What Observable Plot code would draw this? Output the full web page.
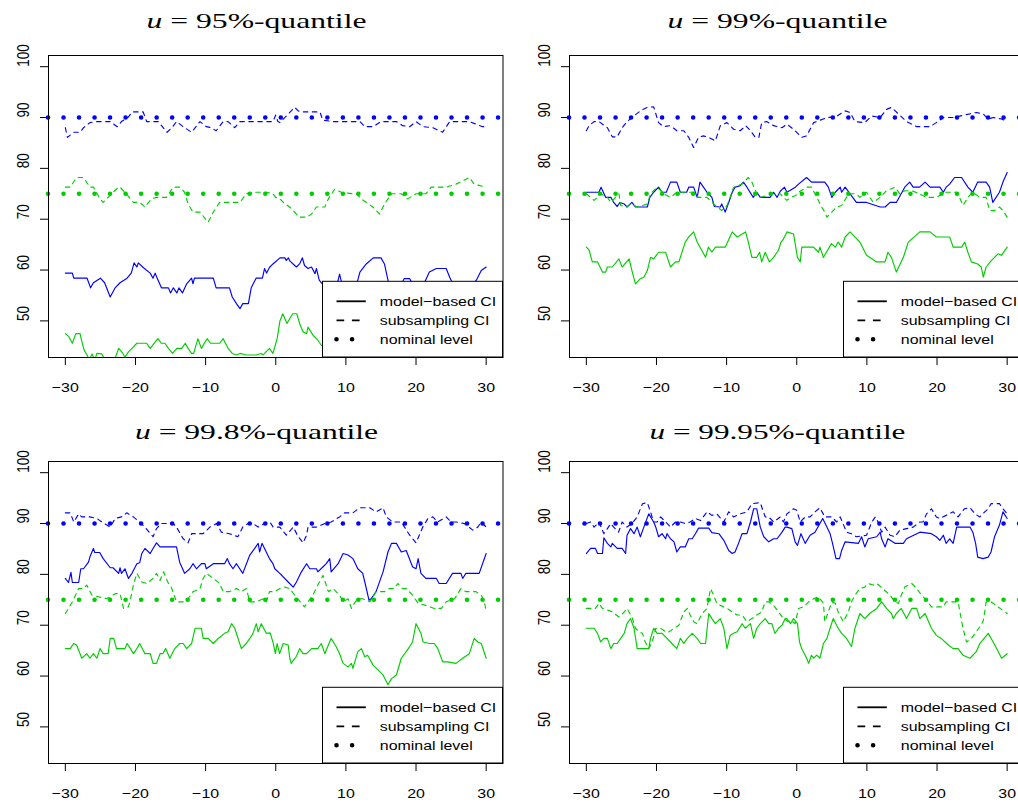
<!DOCTYPE html>
<html><head><meta charset="utf-8">
<script src="https://cdn.jsdelivr.net/npm/d3@7"></script>
<script src="https://cdn.jsdelivr.net/npm/@observablehq/plot@0.6"></script>
<style>
html,body{margin:0;padding:0;background:#fff;}
#wrap{position:relative;width:1018px;height:802px;overflow:hidden;background:#fff;}
#wrap svg{position:absolute;}
</style></head><body><div id="wrap"></div>
<script>
// ---------- data (x = lag, y = coverage in %) ----------
const xTicks = [-30,-20,-10,0,10,20,30];
const yTicks = [50,60,70,80,90,100];
const nominalBlue = [90];
const nominalGreen = [75];
const legendLabels = ["model\u2212based CI","subsampling CI","nominal level"];
const quantileLabels = ["95%","99%","99.8%","99.95%"];

// u = 95%
const p1BlueModel = [[-30,59.4],[-29,59.4],[-28.8,58.4],[-26.9,58.4],[-26.4,56.5],[-26,57.5],[-25,58.4],[-24.4,57.5],[-23.6,54.7],[-22.9,56.5],[-22.2,57.5],[-21.2,58.4],[-20.6,59.4],[-20.2,61.4],[-19.8,60.6],[-19.6,61.4],[-18.9,60.5],[-17.9,59.4],[-17.5,58.4],[-17.2,59.4],[-16.9,58.4],[-16.3,56.5],[-15.3,56.5],[-15,55.5],[-14.6,56.5],[-14.1,55.5],[-13.8,56.5],[-13.3,55.5],[-12.7,57.3],[-12,58.4],[-11.8,57.3],[-11.6,58.4],[-8.9,58.4],[-8.5,56.5],[-6.6,56.5],[-6.2,54.7],[-5.6,53.4],[-5.1,52.4],[-4.7,53.4],[-3.9,53.4],[-3.5,56.5],[-2.8,58.4],[-1.9,58.4],[-1.6,60.3],[-1.3,59.4],[-0.9,60.5],[-0.4,61.2],[0.6,62.4],[1.3,62.4],[1.5,61.9],[1.8,62.4],[2,61.8],[2.7,60.9],[2.95,60.6],[3.4,61.2],[3.8,62.4],[4.1,60.9],[4.6,60.3],[5.1,60.6],[5.6,59.3],[5.8,60.3],[6.2,58],[6.8,57],[7.5,56],[8.2,57.5],[8.8,57.5],[9.1,59.2],[9.4,57.5],[10.5,56.5],[11.5,57],[12,59.6],[12.9,61.2],[13.9,62.4],[15,62.4],[15.5,61.2],[16,58],[16.5,56.5],[17.5,56],[18.3,58.3],[19.1,58.3],[19.6,57],[20.5,56.5],[21.2,57.5],[21.9,59.6],[22.9,60.3],[24.3,60.3],[24.8,58.6],[25,58],[25.8,56.5],[27,56],[28,57],[28.6,58],[29.3,59.9],[30,60.6]];
const p1GreenModel = [[-30,47.5],[-29.5,46.9],[-29,45.6],[-28.5,47.5],[-27.9,47.5],[-27.7,46.2],[-27.3,44.2],[-26.9,43.3],[-26.6,42.3],[-26.2,43.5],[-25.8,42.3],[-25.5,43.6],[-24.8,43.5],[-24.3,42.2],[-23,42.3],[-22.4,44.6],[-21.8,43.6],[-21.5,42.9],[-21,43.9],[-20.5,44.6],[-19.8,45.6],[-18.4,45.6],[-17.9,44.6],[-16.8,46.5],[-16.3,45.6],[-15.8,45.6],[-15.3,44.6],[-14.7,43.6],[-14.1,44.6],[-13.4,44.6],[-12.9,45.6],[-12.5,44.6],[-12,43.6],[-11.7,43.6],[-11.1,46.5],[-10.6,44.6],[-9.8,46.5],[-9.3,45.6],[-8,45.6],[-7.5,46.5],[-6.8,44.6],[-6.2,43.6],[-5.6,43.3],[-5.1,43.6],[-4.2,43.3],[-2.8,43.3],[-2.1,43.6],[-1.8,43.3],[-0.9,44.6],[-0.4,43.6],[0.2,46.5],[0.6,50],[1,51.4],[1.6,49.5],[2.4,51.4],[3,51.4],[3.4,49.5],[3.9,47.8],[4.4,47.5],[4.6,48.8],[5.3,47.2],[6,46.2],[6.5,45.2],[7.5,44.5],[9,45.5],[10.5,44],[12,45.5],[13.5,44.5],[15,46],[16.5,45],[18,44],[19.5,45.5],[21,46.5],[22.5,45],[24,44],[25.5,45.5],[27,46],[28.5,44.5],[30,45]];
const p1BlueSub = [[-30,88],[-29.7,86.1],[-28.8,87.1],[-27.9,87.1],[-27.4,88],[-26.5,89],[-25.5,89.2],[-23.6,89.2],[-22.6,88.2],[-22,89.2],[-21,90.1],[-20.5,91.1],[-18.9,91.1],[-18.4,89.2],[-16.75,89.2],[-15.5,87.1],[-14.8,88],[-14.15,89.2],[-13.2,88.2],[-12,87.1],[-10.8,89.2],[-9.9,88.2],[-9.2,88],[-8.5,87.4],[-7.5,89.2],[-6.8,89.2],[-5.85,88],[-5.1,89.2],[-0.4,89.2],[0,90.5],[0.3,89.2],[0.6,89],[1.8,90.7],[2.7,92],[3.2,91.3],[3.9,91.1],[6.3,91.1],[6.7,89.5],[8.2,89.2],[12,89.2],[12.7,88.2],[13.9,88.2],[15,89.2],[17.2,89.2],[18.1,88.4],[19.1,88.2],[20,89.2],[21,88.2],[22.4,88],[23.8,87.1],[24.8,89.2],[27.6,89.2],[29.5,88.2],[30,88.2]];
const p1GreenSub = [[-30,76.3],[-29.3,76.3],[-28.4,78.2],[-27.4,78.2],[-26.5,76.3],[-26,76.3],[-25.05,74],[-24.6,73.3],[-23.9,74.3],[-23.2,75.3],[-22.4,76.3],[-22.2,76.3],[-21.3,75],[-20.3,73.3],[-19.4,73.3],[-18.65,72.4],[-17.7,74],[-17,74.3],[-15.6,74.3],[-14.6,76.3],[-13.7,76.3],[-13,75.3],[-12.5,73],[-11.8,71.4],[-10.8,71.4],[-9.65,69.4],[-8.9,71.4],[-8,73.3],[-5.1,73.3],[-4.2,75],[-3.25,75.3],[-1.35,75.3],[-0.4,75],[0,74.3],[0.6,74],[1.3,73],[2,72.4],[2.95,71],[3.4,70.4],[4.4,70.4],[5.1,71],[5.8,72.4],[7,72.4],[7.5,74],[8.4,75.9],[9.35,75.3],[11,75],[11.5,75],[12.2,74],[13.85,72.4],[14.8,71],[15.5,73],[16.5,75],[17.9,75],[18.8,74],[20,75],[21.4,75],[22.15,76.3],[24.3,76.3],[25.7,76.9],[27.6,78.2],[28.3,76.9],[30,76.3]];

// u = 99%
const p2BlueModel = [[-30,75.3],[-28.2,75.3],[-27.9,76.3],[-27.25,74.3],[-26.5,74.3],[-26.1,73.3],[-25.6,72.5],[-25.2,73.3],[-24.6,73],[-24.2,72.4],[-23.5,73.3],[-23,72.4],[-21.3,72.4],[-20.95,74.3],[-20.4,75.3],[-19.7,76.3],[-19.2,75.3],[-18.6,75.3],[-18,77.3],[-17.1,77.3],[-16.6,75.3],[-15.7,75.3],[-15.4,76.3],[-14.7,76.3],[-14.2,74.3],[-13.8,77.3],[-13.3,76.3],[-12.8,75.3],[-12.1,74.3],[-11.75,72.5],[-10.9,72.4],[-10.7,73],[-10.2,71.4],[-9.7,73.3],[-9.2,75.3],[-8.8,76.3],[-8.05,76.6],[-7.6,77.3],[-7.1,76.3],[-6.2,74.3],[-5.7,75.3],[-5.2,74.3],[-3.8,74.3],[-3.3,75.3],[-2.8,74.3],[-2.35,75.5],[-1.75,76.3],[-1.4,75.3],[-0.2,76.3],[0.25,76.9],[1.4,78.2],[2.1,77.3],[4,77.3],[4.5,76.3],[5,74.3],[5.5,75.3],[6.2,76.3],[6.4,75.3],[6.9,76.3],[8.5,73.3],[9.95,73.3],[11.9,72.4],[12.6,72.4],[13.3,73.3],[14.2,73.3],[15.4,76.3],[16.1,77.3],[16.6,76.3],[17.5,76.3],[18.3,77.3],[19,76.3],[20.4,76.3],[20.9,75.3],[21.3,76.3],[21.8,76.9],[22.5,78.2],[23.5,78.2],[24.4,76.3],[25.1,75.3],[25.8,77.3],[27,77.3],[27.5,76.3],[27.95,73.3],[28.9,75.3],[29.4,77.3],[30,79.2]];
const p2GreenModel = [[-30,64.5],[-29.6,63.9],[-29.15,61.6],[-28.4,61.6],[-27.7,59.6],[-27.25,59.6],[-27,60.6],[-26.3,60.6],[-25.35,62.2],[-24.9,60.6],[-23.9,62.2],[-23.5,59.9],[-23,57.3],[-22.3,58.3],[-21.8,58.6],[-21.3,59.9],[-20.85,62.5],[-20.4,62.2],[-19.7,63.5],[-18.7,63.5],[-18,60.6],[-17.3,61.6],[-16.8,61.6],[-15.9,65.5],[-15.4,66.5],[-14.7,67.5],[-14.2,65.5],[-13,62.5],[-12.6,64.5],[-12.1,63.5],[-11.6,64.5],[-10.2,64.5],[-9.2,67.5],[-8.5,66.5],[-7.3,67.5],[-6.9,65.5],[-6.4,62.5],[-5.7,62.5],[-5.3,63.5],[-5,61.6],[-4.5,63.5],[-3.9,61.6],[-3.3,62.5],[-2.6,63.9],[-2.25,65.5],[-1.9,66.1],[-1.4,67.5],[-0.46,67.1],[0.1,62.5],[0.5,61.6],[0.72,64.5],[2.4,64.5],[3.1,63.5],[3.3,64.5],[3.8,62.5],[4.95,65.2],[5.5,64.5],[5.9,65.5],[6.4,64.5],[6.9,66.5],[7.6,67.5],[9,65.5],[9.95,62.9],[11.4,61.6],[12.6,61.6],[13,63.5],[13.5,62.5],[14.2,59.6],[15.2,62.5],[15.9,65.5],[17.55,67.5],[19,67.5],[19.9,66.5],[21.8,66.5],[22.3,64.5],[23.5,64.5],[23.95,65.5],[24.4,63.5],[24.9,61.6],[25.8,61.2],[26.3,60.6],[26.6,58.6],[27,60.6],[27.7,61.8],[28.7,63.2],[29.2,62.9],[30,64.5]];
const p2BlueSub = [[-30,87.4],[-29.6,88.4],[-28.9,89.2],[-28.2,89.2],[-27,88],[-26.3,86.2],[-25.6,86.2],[-24.9,88],[-24.2,89.2],[-23.5,90],[-22.3,91.3],[-21.3,92],[-20.4,92.1],[-19.7,89],[-19,88.2],[-18,88.4],[-17.1,87.4],[-16.1,87.4],[-15.4,86.1],[-14.7,84.1],[-14,86.1],[-13.3,86.4],[-12.6,86.1],[-11.6,85.4],[-10.9,88.4],[-9.95,89],[-9,87.7],[-8.05,87.4],[-7.3,88.4],[-6.6,87.4],[-5.9,86.1],[-5.4,86.1],[-5,89],[-4.3,89.2],[-3.3,88.4],[-2.1,88],[-1.4,88.7],[-0.46,87.7],[0.72,86.1],[1.4,86.4],[2.4,89],[2.85,89.2],[4.3,90],[5.5,90.1],[6.9,91.3],[7.6,91],[8.3,89.2],[9.7,89],[10.7,90.3],[11.9,90],[12.8,91.6],[13.5,92],[14.5,90.7],[15.65,89.2],[17.1,88.2],[19,88.2],[19.9,89],[20.9,90],[22.3,90],[25.6,91],[26.6,90.7],[27.3,89.7],[28,90],[29.2,89.7],[30,89.2]];
const p2GreenSub = [[-30,75],[-29.4,74.3],[-28.9,73.7],[-27.96,75],[-27,74.3],[-26.5,73.3],[-25.35,75],[-25.1,72.7],[-24.2,72.4],[-23.7,73],[-22.7,72.4],[-21.3,73],[-20.85,75],[-19.9,76.3],[-18.95,75],[-18,74.3],[-17.1,75.3],[-14.7,75.3],[-14,74.3],[-12.8,74.3],[-11.85,73],[-10.7,71.7],[-9.95,72.7],[-9.5,74.3],[-9,76.3],[-7.8,76.9],[-6.9,78.2],[-6.4,77.3],[-5.7,75],[-5.2,74.3],[-3.3,75],[-2.36,75],[-1.9,74.3],[-1.4,73.7],[-0.9,74.3],[-0.2,74.6],[0.25,75.3],[1.4,76.3],[2.1,76.3],[2.85,74.3],[3.55,72.4],[4,71.4],[4.3,70.4],[5,71.4],[5.7,72.4],[6.4,72.7],[7.4,75],[8.5,75],[9,74.3],[9.95,75.3],[10.9,73.3],[11.9,74.3],[12.8,75.6],[14,76.3],[14.7,75],[15.4,75.6],[16.4,75.6],[17.5,75],[18.5,74.3],[19.9,74.3],[21.3,75.3],[22.8,75.3],[23.2,74.3],[23.7,72.7],[24.4,74.3],[25.1,75.3],[26.1,74.3],[27,74.3],[27.5,71.7],[28.2,71.7],[28.9,72.4],[29.4,71.7],[30,70.4]];

// u = 99.8%
const p3BlueModel = [[-30,79.2],[-29.55,78.4],[-29.2,80.4],[-29,78.4],[-28.1,78.4],[-27.8,81.1],[-27.4,81.1],[-26.7,82.4],[-26.5,83.4],[-26,85.1],[-25.8,84.3],[-25.1,84.3],[-24.6,83.1],[-23.6,81.3],[-23.2,81.3],[-22.4,80.2],[-22.2,81.3],[-22,80.2],[-21.5,81.1],[-21,79.2],[-20.5,80.2],[-19.8,82.1],[-19.4,82.3],[-19.1,84.1],[-18.65,85.1],[-17.9,84.1],[-17.5,85.1],[-17,86.2],[-16.5,85.4],[-14.15,85.4],[-13.7,82.4],[-13,80.2],[-12.25,81.1],[-11.8,82.1],[-11.3,81.1],[-10.6,82.1],[-10.1,82.1],[-9.9,81.1],[-8.9,82.1],[-7.3,82.1],[-6.9,83.1],[-6.6,82.1],[-6.1,81.1],[-5.6,82.1],[-4.7,80.2],[-3.7,83.8],[-3,85.1],[-2.5,86.1],[-2.3,84.4],[-1.96,86.1],[-0.9,83.1],[-0.4,82.1],[-0.13,81.1],[0.58,80.2],[1.77,78.5],[2.5,77.5],[2.95,78.5],[3.66,80.5],[4.4,82.1],[4.85,81.1],[5.8,81.1],[6,80.5],[6.75,81.5],[7.2,82.1],[7.7,83.1],[7.9,80.5],[8.9,82.1],[9.6,84.1],[10.3,83.8],[11,83.1],[11.7,81.1],[12.4,80.2],[12.7,78.5],[13.3,74.9],[13.6,75.2],[14.3,76.6],[15.3,80.5],[16,84.4],[16.5,86.1],[17.2,86.1],[17.9,84.4],[18.6,84.7],[19.5,81.5],[20,81.1],[20.3,83.1],[20.7,80.2],[21.4,79.2],[22.9,79.2],[23.3,78.2],[24.3,78.2],[25.2,80.2],[26.4,80.2],[26.65,79.2],[27.1,80.2],[29,80.2],[30,84.1]];
const p3GreenModel = [[-30,65.4],[-29.3,65.4],[-28.8,66.4],[-28.4,66.1],[-27.65,63.5],[-26.95,64.4],[-26.5,63.5],[-26,64.4],[-25.5,63.5],[-25.05,65.4],[-24.6,64.4],[-23.9,64.4],[-23.6,67.4],[-23.1,67.4],[-22.7,65.4],[-21.5,65.4],[-21.2,66.4],[-20.7,65.4],[-20.3,64.4],[-19.8,65.4],[-19.4,66.4],[-18.65,64.4],[-17.9,64.4],[-17.5,62.5],[-17,62.5],[-16.5,64.4],[-16.1,64.4],[-15.7,65.4],[-15.1,63.5],[-14.4,65.4],[-13.7,66.4],[-13.2,66.4],[-12.7,65.4],[-12,66.4],[-11.5,69.4],[-10.6,69.4],[-10.35,67.4],[-9.65,67.4],[-8.9,66.4],[-8.2,67.4],[-7.3,68.4],[-6.8,68.7],[-6.3,70.3],[-5.85,69.4],[-4.9,65.4],[-4.2,66.4],[-3.7,67.4],[-3.25,68.4],[-2.77,70.3],[-2.5,68.7],[-2.06,70.3],[-1.35,68.4],[-0.8,68.5],[-0.4,66.7],[-0.05,64.4],[0.2,66.4],[0.55,64.4],[1.06,66.4],[1.77,66.1],[2,63.5],[2.2,62.5],[2.95,63.9],[3.4,65.4],[3.9,64.4],[4.4,64.4],[5.1,65.4],[6,65.4],[6.5,66.4],[7,64.4],[7.5,66.1],[7.9,67.4],[8.6,65.8],[9.1,64.4],[9.6,62.5],[10.3,61.8],[10.8,62.5],[11,61.5],[11.7,64.8],[12.2,65.4],[12.7,63.8],[13.1,64.1],[13.9,62.1],[14.6,61.2],[15.3,60.2],[16,58.3],[16.5,59.5],[17.2,60.2],[17.9,63.5],[18.6,64.8],[19.1,65.8],[19.5,66.7],[20,70.3],[20.7,68.4],[21,66.7],[21.9,66.4],[22.6,66.4],[23.1,65.4],[23.8,62.8],[24.5,62.8],[25.7,62.5],[26.65,63.5],[27.6,64.4],[28.3,67.4],[28.8,66.7],[29.3,66.4],[30,63.5]];
const p3BlueSub = [[-30,92.1],[-29.3,92.1],[-28.8,90.3],[-28.1,91.9],[-27.65,91.3],[-26.5,91.3],[-25.5,91],[-24.8,90.3],[-23.6,89.3],[-22.9,91],[-22,91.3],[-21.25,92.1],[-20.3,91.3],[-19.4,90.3],[-18.65,89.3],[-17.5,87.4],[-17,89],[-16.3,90],[-14.6,90],[-14.15,89.3],[-13.2,87],[-12.5,86.2],[-12,88],[-10.35,88],[-9.4,89.3],[-8.45,90],[-7.75,88.3],[-6.6,88],[-5.4,87.4],[-4.7,89.3],[-3.96,90],[-3.25,90],[-2.5,89.3],[-1.6,90],[-0.84,90.3],[-0.37,89.3],[0.58,89.3],[1.5,87.7],[2.5,89.3],[3.2,87.4],[3.9,86.2],[4.4,87.7],[4.6,89.3],[5.8,89.3],[7,90],[7.9,90.3],[9.1,91.3],[9.8,92.1],[11,92.1],[11.96,93.1],[13.4,93.1],[14.3,92.3],[15.3,93.1],[15.75,91.3],[16.7,90.3],[17.9,90.3],[19.1,87.7],[20,86.2],[20.96,89.3],[21.7,91],[22.4,91.3],[23.1,90.3],[24.3,91.3],[25,90.3],[25.7,90.3],[26.9,90],[28.1,88.7],[28.8,89.3],[29.3,90.3],[30,89.3]];
const p3GreenSub = [[-30,72.3],[-29.55,73.3],[-29,74.6],[-28.1,77.2],[-27.4,77.2],[-26.95,77.9],[-26.7,77.2],[-26.2,75.9],[-25.3,75.6],[-24.1,75.2],[-22.9,76.2],[-22.2,76.2],[-21.7,73.3],[-21,73.6],[-20.7,75.2],[-20.3,77.9],[-19.8,80.2],[-19.1,78.5],[-18.4,78.2],[-17.5,79.2],[-17,80.2],[-16.5,78.8],[-16,80.5],[-15.3,78.2],[-14.9,77.5],[-14.15,74.6],[-13.2,74.6],[-12.5,75.2],[-11.8,76.6],[-10.8,77.2],[-10.35,79.2],[-9.9,80.2],[-8.9,79.2],[-8,78.2],[-7.5,76.6],[-6.6,76.6],[-5.6,77.2],[-4.9,76.6],[-4.2,77.2],[-3.7,74.6],[-2.8,74.6],[-1.8,75.2],[-1.35,74.6],[-0.9,76.6],[-0.13,76.6],[0.58,77.2],[1.3,77.5],[2,77.2],[2.7,75.9],[4.1,73.6],[4.6,74.6],[5.3,75.9],[6,77.9],[6.75,79.8],[7.5,76.6],[8.2,77.2],[9.1,75.9],[9.6,74.6],[10.3,75.2],[10.8,73.3],[11.2,74.3],[11.7,75.2],[12.4,75.2],[13.4,74.6],[14.3,76.6],[15.5,76.6],[16.2,77.2],[16.9,77.2],[17.4,78.2],[18.1,77.2],[18.6,77.2],[19.5,75.9],[20.3,74.3],[21.4,73.9],[22.6,73.3],[23.6,73.3],[24.3,74.6],[25.5,75.2],[26.4,77.2],[27.1,76.6],[28.55,76.6],[29.3,75.9],[29.75,74.6],[30,72.6]];

// u = 99.95%
const p4BlueModel = [[-30,84.1],[-29.4,85.1],[-28.7,85.1],[-28.4,84.1],[-27.7,84.1],[-27.5,87.2],[-27,86.1],[-26.5,85.4],[-26.3,86.1],[-25.6,85.1],[-24.9,85.1],[-24.4,84.1],[-24.2,87.7],[-23.7,89],[-23.2,88],[-22.75,89.3],[-22.3,87.4],[-21.8,89.3],[-21.1,91.9],[-20.4,90.3],[-20.1,89.3],[-19.7,87.4],[-19.2,88],[-18.7,87],[-18.5,88],[-18,87],[-17.5,86.4],[-17.1,84.4],[-16.6,85.4],[-15.9,85.4],[-15.4,87],[-14.9,87],[-14.45,88],[-14,89.1],[-12.55,89.1],[-12.1,88.2],[-11.1,88],[-10.4,86.7],[-9.7,84.7],[-9.2,84.1],[-8.8,84.4],[-8.3,86.1],[-7.8,88],[-7.1,88],[-6.6,90.3],[-6.15,92.9],[-5.7,92.9],[-5.2,89.3],[-4.7,87.4],[-4,86.4],[-3.3,87],[-2.8,87],[-2.1,88.3],[-1.65,89.3],[-1.4,89.3],[-0.7,89],[-0.23,86.4],[0.1,85.7],[0.6,88],[1.2,86.1],[1.9,87.7],[2.6,88.3],[3.3,90],[3.7,91],[4.3,89.3],[4.75,88],[5.1,86.1],[5.6,83.1],[6.1,83.1],[6.4,84.7],[6.9,86.4],[8.8,86.1],[9.25,87.4],[9.7,85.4],[10.2,87],[11.4,87.4],[11.9,88.3],[12.1,87],[12.6,85.4],[13,87],[14,86.1],[15.2,86.1],[15.65,87],[17.55,88.3],[19.2,88],[19.9,87.4],[20.4,86.7],[20.9,87.7],[21.3,86.1],[21.8,87],[22.3,86.1],[22.8,89.3],[24.7,89.3],[25.1,88.3],[25.5,86.1],[25.8,83.4],[26.55,83.1],[27.3,83.4],[27.7,84.4],[28.2,87.4],[28.9,89.7],[29.4,92.3],[30,91]];
const p4GreenModel = [[-30,69.4],[-28.9,69.4],[-28.4,68.4],[-27.96,66.7],[-27.5,67.4],[-27,67.4],[-26.5,65.4],[-26.1,66.4],[-25.6,66.4],[-25.1,67.4],[-24.6,68.4],[-24.2,70.3],[-23.7,71.3],[-23.2,69.4],[-22.75,65.4],[-21.1,65.4],[-20.85,67.4],[-20.4,69.4],[-19.9,68.4],[-19.2,68.4],[-18.5,67.4],[-17.8,66.4],[-17.1,65.4],[-16.6,67.4],[-16.1,66.4],[-15.6,67.4],[-14.9,68.4],[-14.2,67.4],[-13.7,66.4],[-13,66.4],[-12.55,72.3],[-12.1,71.3],[-11.6,70.3],[-10.9,71.3],[-10.4,69.4],[-9.95,65.4],[-9.5,68],[-9,68.4],[-8.5,68.7],[-7.8,70.3],[-7.35,69.4],[-6.6,70.3],[-6.15,67.4],[-5.7,69.4],[-5.2,70.3],[-4.5,71.3],[-4,70.3],[-3.55,70.3],[-3.1,68.4],[-2.6,69.4],[-2.1,70],[-1.65,71.3],[-1.4,71.3],[-0.9,70.3],[-0.46,71.3],[0.1,70.3],[0.4,66.7],[0.7,65.4],[1.2,64.1],[1.4,63.5],[1.7,62.5],[2.1,64.1],[2.4,63.5],[2.85,64.1],[3.3,63.5],[3.8,66.4],[4.3,67.4],[4.75,69.4],[5.2,71.3],[5.9,69.4],[6.4,68.4],[7.1,67.4],[7.8,65.8],[8.3,69.4],[9,72.3],[9.7,71.3],[10.4,72.3],[11.4,73.3],[12.1,74.6],[12.8,73.3],[13.5,72.3],[13.75,71.3],[14.2,72.3],[14.9,73.3],[15.65,71.3],[16.4,73.3],[17.1,73.3],[17.55,71.3],[18.3,72.3],[19.2,69.4],[19.9,68],[20.6,67.4],[21.6,66.1],[22.3,65.4],[23,65.4],[23.7,64.1],[24.7,63.5],[25.6,64.8],[26.1,66.4],[27.3,68.4],[28,66.7],[28.5,65.4],[29.2,63.5],[30,64.4]];
const p4BlueSub = [[-30,90],[-29.4,90.3],[-28.9,89.3],[-28.2,90.3],[-27.5,88],[-26.5,90],[-26.1,89.3],[-25.4,88.3],[-24.9,90.3],[-24.2,89.3],[-23.5,90],[-22.75,91.3],[-22,93.9],[-21.3,94.1],[-20.85,92.3],[-20.4,90.3],[-19.9,90.3],[-19.4,91.3],[-18.7,90.3],[-18,89.3],[-17.3,90.3],[-16.6,90.3],[-15.9,90],[-15.2,90.3],[-14.45,91],[-13.7,90.6],[-12.8,92.3],[-12.1,91.6],[-11.4,91.9],[-10.4,90.3],[-9.7,92.3],[-9,91.3],[-8.05,91.9],[-7.1,92.3],[-6.4,93.9],[-5.2,94.1],[-4.5,91.3],[-4,91.3],[-3.3,90.3],[-2.35,91.3],[-1.9,90.3],[-1.4,91.9],[-0.46,92.9],[0,92.6],[0.5,90.3],[1.2,91.3],[1.9,91.3],[2.6,92.3],[3.3,93.1],[4,91.3],[5,91.3],[5.7,90.3],[6.2,91.3],[7.1,88.3],[7.8,88],[8.5,87.4],[9.95,87.7],[10.7,90.3],[11.2,91.3],[11.6,90.3],[12.1,88.3],[12.6,89.3],[13.3,87.7],[14,87.4],[14.7,88.7],[15.65,89],[16.6,89.3],[17.55,90.3],[18,90.3],[18.5,91.9],[19.2,92.9],[19.9,91.3],[20.4,91],[21.3,91.6],[22.3,92.3],[23,91.3],[23.9,92.9],[24.7,93.1],[25.4,91.9],[26.1,91.3],[26.8,92.3],[27.3,92.9],[27.7,93.9],[28.9,93.9],[29.4,92.9],[30,91.9]];
const p4GreenSub = [[-30,73.3],[-28.7,73.3],[-28.2,74.3],[-27.7,73.3],[-27,73],[-26.3,72.6],[-25.35,71.6],[-24.6,72.6],[-24.2,73.3],[-23.5,71.6],[-23,69.4],[-22.5,68.7],[-22,68.4],[-21.6,66.7],[-21.1,65.4],[-20.6,66.7],[-20.1,69.4],[-19.4,69.4],[-18.7,68.7],[-18.2,68.7],[-17.5,69.4],[-16.8,70],[-16.1,72.6],[-15.6,73.3],[-15.2,72],[-14.7,70.7],[-14.2,70.3],[-13.5,72.3],[-12.8,73.3],[-12.3,77.2],[-11.85,75.9],[-11.4,74.3],[-10.9,73.9],[-9.95,73.3],[-9.2,72.6],[-8.5,72],[-7.8,72],[-7.1,70.7],[-6.4,71.3],[-5.7,72],[-5,72.6],[-4.5,74.6],[-4,74.6],[-3.3,73.9],[-2.6,72.6],[-1.9,71.3],[-1.2,70.7],[-0.9,71],[-0.23,70.3],[0.25,73.3],[0.95,73.6],[1.7,74.6],[2.4,75.2],[3.1,75.6],[3.8,74.3],[4,70.7],[4.5,72.6],[5,74.6],[5.5,74.3],[5.9,72.6],[6.65,70.7],[7.35,72.6],[7.8,74.6],[8.3,75.9],[9,77.2],[9.7,77.5],[10.2,78.2],[10.9,77.9],[11.4,78.2],[12.3,77.2],[13.3,75.9],[14,74.6],[14.5,74.3],[14.9,75.9],[15.4,77.5],[16.4,78.2],[17.1,77.2],[17.8,75.9],[18.5,74.9],[19.2,73.6],[20.9,73.6],[21.3,74.6],[23,74.6],[23.7,69.4],[24.2,66.7],[24.9,67.4],[25.6,68.7],[26.1,69.7],[26.55,70.7],[26.8,72.6],[27,74.6],[27.7,74.6],[28.7,73.6],[30,72.3]];

// ---------- layout / style ----------
const BLUE = "#0000ff", GREEN = "#00cd00";
const W = 520, H = 400;
const M = {top: 55, right: 17.5, bottom: 43, left: 48};
const TEXT_STRETCH = 1.18;
const SANS = "'Liberation Sans', Arial, Helvetica, sans-serif";
const panels = [
  {q: quantileLabels[0], bm: p1BlueModel, gm: p1GreenModel, bs: p1BlueSub, gs: p1GreenSub, left: 0,   top: 0,   titleY: 27.5, titleW: 220},
  {q: quantileLabels[1], bm: p2BlueModel, gm: p2GreenModel, bs: p2BlueSub, gs: p2GreenSub, left: 521, top: 0,   titleY: 27.5, titleW: 220},
  {q: quantileLabels[2], bm: p3BlueModel, gm: p3GreenModel, bs: p3BlueSub, gs: p3GreenSub, left: 0,   top: 406, titleY: 33.3, titleW: 243},
  {q: quantileLabels[3], bm: p4BlueModel, gm: p4GreenModel, bs: p4BlueSub, gs: p4GreenSub, left: 521, top: 406, titleY: 33.3, titleW: 256}
];
const fmt = d => d < 0 ? "\u2212" + Math.abs(d) : String(d);
const NS = "http://www.w3.org/2000/svg";

function stretchTexts(svg, k) {
  const sr = svg.getBoundingClientRect();
  svg.querySelectorAll("text").forEach(t => {
    if (!t.textContent) return;
    const r = t.getBoundingClientRect();
    const m = t.parentNode.getCTM();
    const cx = r.x + r.width / 2 - sr.x - m.e, cy = r.y + r.height / 2 - sr.y - m.f;
    const g = document.createElementNS(NS, "g");
    g.setAttribute("transform", `translate(${cx},${cy}) scale(${k},1) translate(${-cx},${-cy})`);
    t.parentNode.insertBefore(g, t);
    g.appendChild(t);
  });
}

const wrap = document.getElementById("wrap");
for (const p of panels) {
  const lineOpts = (color, dash) => ({x: d => d[0], y: d => d[1], stroke: color, strokeWidth: 1.15, strokeDasharray: dash, clip: true});
  const chart = Plot.plot({
    width: W, height: H,
    marginTop: M.top, marginRight: M.right, marginBottom: M.bottom, marginLeft: M.left,
    style: {fontFamily: SANS, fontSize: "13.5px", color: "black", background: "transparent", overflow: "visible"},
    x: {domain: [-32.4, 32.4], ticks: xTicks, tickSize: 8, tickPadding: 17, tickFormat: fmt, label: null},
    y: {domain: [42.8, 102.2], ticks: yTicks, tickSize: 8, tickFormat: () => "", label: null},
    marks: [
      Plot.line(p.bm, lineOpts(BLUE, null)),
      Plot.line(p.gm, lineOpts(GREEN, null)),
      Plot.line(p.bs, lineOpts(BLUE, "4.5,4.5")),
      Plot.line(p.gs, lineOpts(GREEN, "4.5,4.5")),
      Plot.ruleY(nominalBlue, {stroke: BLUE, strokeWidth: 4.6, strokeDasharray: "0,15.52", strokeLinecap: "round"}),
      Plot.ruleY(nominalGreen, {stroke: GREEN, strokeWidth: 4.6, strokeDasharray: "0,15.52", strokeLinecap: "round"}),
      Plot.text(yTicks, {y: d => d, text: d => fmt(d), frameAnchor: "left", dx: -25, rotate: -90, fontSize: 13.5, fill: "black"}),
      Plot.frame({stroke: "black", strokeWidth: 1})
    ]
  });
  chart.style.left = p.left + "px";
  chart.style.top = p.top + "px";
  wrap.appendChild(chart);
  const svg = chart.tagName.toLowerCase() === "svg" ? chart : chart.querySelector("svg");
  stretchTexts(svg, TEXT_STRETCH);

  // legend (bottom-right inside the frame)
  const xr = chart.scale("x").range, yr = chart.scale("y").range;
  const fx1 = Math.max(...xr), fy1 = Math.max(...yr);
  const LW = 180, LH = 75.7;
  const lx = fx1 - LW, ly = fy1 - LH;
  const g = d3.select(svg).append("g").attr("text-anchor", "start");
  g.append("rect").attr("x", lx).attr("y", ly).attr("width", LW).attr("height", LH)
    .attr("fill", "white").attr("stroke", "black").attr("stroke-width", 1);
  const styles = [
    {dash: null, w: 1.8},
    {dash: "7.7,7.7", w: 1.8},
    {dash: "0,15.6", w: 4.6, cap: "round"}
  ];
  legendLabels.forEach((lab, i) => {
    const yy = ly + 20 + 19 * i;
    const s = styles[i];
    g.append("line").attr("x1", lx + 14).attr("x2", lx + 43.3).attr("y1", yy).attr("y2", yy)
      .attr("stroke", "black").attr("stroke-width", s.w)
      .attr("stroke-dasharray", s.dash).attr("stroke-linecap", s.cap || "butt");
    g.append("text").attr("transform", `translate(${lx + 57.3},${yy}) scale(${TEXT_STRETCH},1)`)
      .attr("text-anchor", "start")
      .attr("dy", "0.35em").attr("font-size", 13.5).attr("font-family", SANS).attr("fill", "black")
      .text(lab);
  });

  // title
  const tx = 256.5;
  const t = d3.select(svg).append("text").attr("x", tx).attr("y", p.titleY)
    .attr("text-anchor", "middle").attr("font-family", "'Liberation Serif', 'DejaVu Serif', serif")
    .attr("font-size", 22).attr("fill", "black")
    .attr("textLength", p.titleW).attr("lengthAdjust", "spacingAndGlyphs");
  t.append("tspan").attr("font-style", "italic").text("u");
  t.append("tspan").text(" = " + p.q + "-quantile");
}
</script></body></html>
